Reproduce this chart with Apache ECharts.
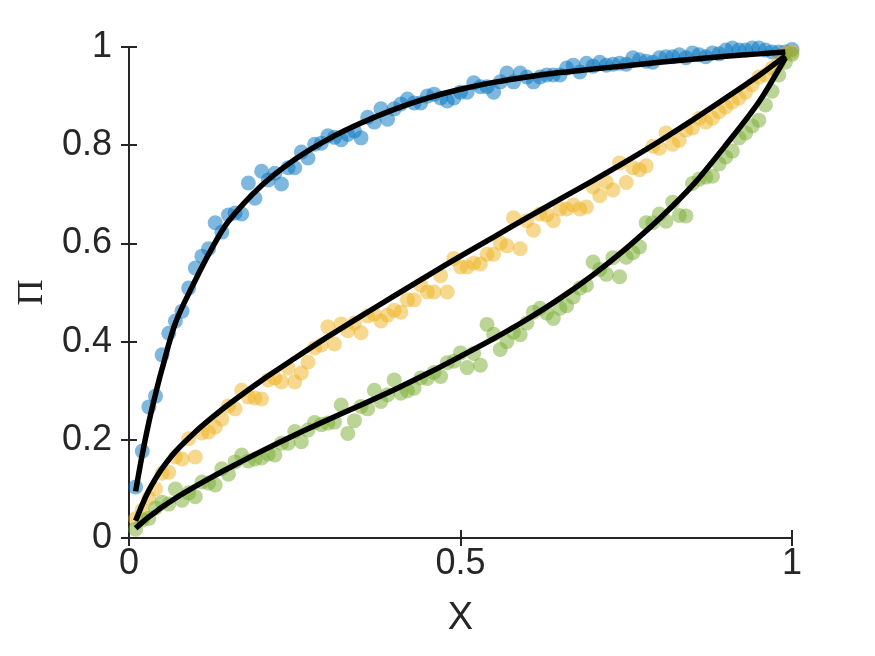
<!DOCTYPE html>
<html>
<head>
<meta charset="utf-8">
<script src="https://cdn.jsdelivr.net/npm/echarts@6/dist/echarts.min.js"></script>
<style>html,body{margin:0;padding:0;background:#fff;}#c{width:875px;height:656px;}</style>
</head>
<body>
<div id="c"></div>
<script>
// ---------- data ----------
var xValues = [0.01,0.02,0.03,0.04,0.05,0.06,0.07,0.08,0.09,0.10,
  0.11,0.12,0.13,0.14,0.15,0.16,0.17,0.18,0.19,0.20,
  0.21,0.22,0.23,0.24,0.25,0.26,0.27,0.28,0.29,0.30,
  0.31,0.32,0.33,0.34,0.35,0.36,0.37,0.38,0.39,0.40,
  0.41,0.42,0.43,0.44,0.45,0.46,0.47,0.48,0.49,0.50,
  0.51,0.52,0.53,0.54,0.55,0.56,0.57,0.58,0.59,0.60,
  0.61,0.62,0.63,0.64,0.65,0.66,0.67,0.68,0.69,0.70,
  0.71,0.72,0.73,0.74,0.75,0.76,0.77,0.78,0.79,0.80,
  0.81,0.82,0.83,0.84,0.85,0.86,0.87,0.88,0.89,0.90,
  0.91,0.92,0.93,0.94,0.95,0.96,0.97,0.98,0.99,1.00];

var blueY = [0.104,0.177,0.267,0.289,0.373,0.417,0.442,0.462,0.509,0.550,
  0.574,0.589,0.642,0.623,0.658,0.662,0.660,0.723,0.692,0.747,
  0.729,0.743,0.721,0.754,0.754,0.786,0.774,0.802,0.804,0.819,
  0.816,0.811,0.822,0.829,0.815,0.857,0.847,0.874,0.853,0.874,
  0.884,0.894,0.886,0.886,0.900,0.904,0.896,0.890,0.896,0.908,
  0.908,0.927,0.919,0.919,0.908,0.929,0.947,0.929,0.947,0.939,
  0.929,0.939,0.943,0.943,0.943,0.957,0.963,0.949,0.967,0.961,
  0.969,0.963,0.965,0.967,0.965,0.978,0.974,0.971,0.969,0.978,
  0.980,0.980,0.984,0.978,0.988,0.984,0.980,0.988,0.986,0.994,
  0.998,0.994,0.994,0.998,0.998,0.994,0.990,0.990,0.990,0.995];

var yellowY = [0.039,0.057,0.081,0.100,0.132,0.134,0.165,0.161,0.202,0.165,
  0.214,0.216,0.226,0.242,0.269,0.263,0.301,0.287,0.285,0.283,
  0.322,0.326,0.318,0.346,0.318,0.336,0.358,0.387,0.393,0.430,
  0.395,0.436,0.422,0.438,0.418,0.452,0.456,0.442,0.454,0.464,
  0.460,0.485,0.485,0.515,0.501,0.501,0.534,0.501,0.569,0.552,
  0.552,0.560,0.558,0.578,0.578,0.601,0.595,0.652,0.589,0.646,
  0.627,0.660,0.658,0.646,0.670,0.670,0.678,0.670,0.674,0.715,
  0.697,0.725,0.709,0.764,0.724,0.754,0.750,0.758,0.798,0.794,
  0.825,0.802,0.810,0.831,0.835,0.855,0.847,0.855,0.868,0.878,
  0.888,0.896,0.908,0.923,0.939,0.943,0.957,0.969,0.988,0.990];

var greenY = [0.018,0.037,0.040,0.061,0.073,0.069,0.100,0.077,0.092,0.084,
  0.114,0.112,0.108,0.141,0.130,0.155,0.169,0.157,0.161,0.163,
  0.171,0.169,0.193,0.193,0.217,0.196,0.220,0.235,0.231,0.234,
  0.236,0.271,0.213,0.239,0.268,0.263,0.301,0.278,0.292,0.322,
  0.295,0.300,0.305,0.326,0.325,0.337,0.329,0.357,0.360,0.377,
  0.347,0.376,0.352,0.435,0.415,0.384,0.400,0.419,0.414,0.438,
  0.460,0.468,0.458,0.447,0.468,0.473,0.491,0.509,0.515,0.562,
  0.547,0.537,0.571,0.532,0.572,0.581,0.593,0.642,0.642,0.660,
  0.645,0.684,0.657,0.656,0.722,0.731,0.735,0.737,0.762,0.776,
  0.788,0.815,0.825,0.839,0.851,0.882,0.910,0.943,0.969,0.985];

// fitted curves (sampled from the black lines)
var fitX = [0.01,0.02,0.03,0.04,0.05,0.07,0.10,0.125,0.15,0.20,0.25,0.30,0.35,0.40,0.45,0.50,
  0.55,0.60,0.65,0.70,0.75,0.80,0.85,0.90,0.95,0.99];
var blueFit = [0.095,0.170,0.236,0.293,0.345,0.438,0.525,0.590,0.645,0.718,0.771,0.812,0.845,0.873,0.896,0.914,
  0.928,0.939,0.948,0.955,0.962,0.969,0.975,0.981,0.986,0.990];
var yellowFit = [0.035,0.068,0.097,0.121,0.142,0.176,0.216,0.245,0.272,0.321,0.366,0.410,0.452,0.493,0.534,0.574,
  0.613,0.652,0.690,0.728,0.767,0.808,0.851,0.896,0.942,0.982];
var greenFit = [0.020,0.032,0.043,0.053,0.063,0.081,0.105,0.124,0.142,0.177,0.210,0.241,0.271,0.302,0.335,0.370,
  0.406,0.445,0.488,0.536,0.590,0.650,0.718,0.800,0.888,0.978];

var xTicks = [0, 0.5, 1];
var yTicks = [0, 0.2, 0.4, 0.6, 0.8, 1];

function pairs(xs, ys) { return xs.map(function (x, i) { return [x, ys[i]]; }); }

var axisColor = '#262626';
var tickFont = 'Liberation Sans, Arial, Helvetica, sans-serif';

var chart = echarts.init(document.getElementById('c'), null, {renderer: 'canvas'});
var tickStyle = {show: true, inside: true, length: 8, lineStyle: {color: axisColor, width: 2}};
var commonLine = {show: true, lineStyle: {color: axisColor, width: 2}};
function fitSeries(name, ys) {
  return {type: 'line', name: name, data: pairs(fitX, ys), smooth: 0.3,
    showSymbol: false, z: 5, lineStyle: {color: '#000', width: 5.5}};
}
var option = {
  animation: false,
  backgroundColor: '#ffffff',
  grid: {left: 129, right: 83, top: 47, bottom: 118, containLabel: false},
  xAxis: [{
    type: 'value', min: 0, max: 1, interval: 0.5, position: 'bottom',
    axisLine: commonLine, axisTick: tickStyle, splitLine: {show: false},
    axisLabel: {color: axisColor, fontSize: 36, fontFamily: tickFont, margin: 8,
      formatter: function (v) { return xTicks.indexOf(v) >= 0 ? String(v) : ''; }},
    name: 'X', nameLocation: 'middle', nameGap: 62,
    nameTextStyle: {color: axisColor, fontSize: 38, fontFamily: tickFont}
  }, {
    type: 'value', min: 0, max: 1, interval: 0.5, position: 'top',
    axisLine: commonLine, axisTick: tickStyle, splitLine: {show: false}, axisLabel: {show: false}
  }],
  yAxis: [{
    type: 'value', min: 0, max: 1, interval: 0.2, position: 'left',
    axisLine: commonLine, axisTick: tickStyle, splitLine: {show: false},
    axisLabel: {color: axisColor, fontSize: 36, fontFamily: tickFont, margin: 17,
      formatter: function (v) { var r = Math.round(v * 10) / 10; return yTicks.indexOf(r) >= 0 ? String(r) : ''; }},
    name: 'Π', nameLocation: 'middle', nameGap: 78, nameRotate: 90,
    nameTextStyle: {color: axisColor, fontSize: 36, fontFamily: 'Liberation Serif, DejaVu Serif, serif'}
  }, {
    type: 'value', min: 0, max: 1, interval: 0.2, position: 'right',
    axisLine: commonLine, axisTick: tickStyle, splitLine: {show: false}, axisLabel: {show: false}
  }],
  series: [
    {type: 'scatter', name: 'blue', data: pairs(xValues, blueY), symbolSize: 15, z: 2,
      itemStyle: {color: '#0072BD', opacity: 0.5}},
    {type: 'scatter', name: 'yellow', data: pairs(xValues, yellowY), symbolSize: 15, z: 2,
      itemStyle: {color: '#EDB120', opacity: 0.5}},
    {type: 'scatter', name: 'green', data: pairs(xValues, greenY), symbolSize: 15, z: 2,
      itemStyle: {color: '#77AC30', opacity: 0.5}},
    fitSeries('blueFit', blueFit),
    fitSeries('yellowFit', yellowFit),
    fitSeries('greenFit', greenFit)
  ]
};
chart.setOption(option);
</script>
</body>
</html>
